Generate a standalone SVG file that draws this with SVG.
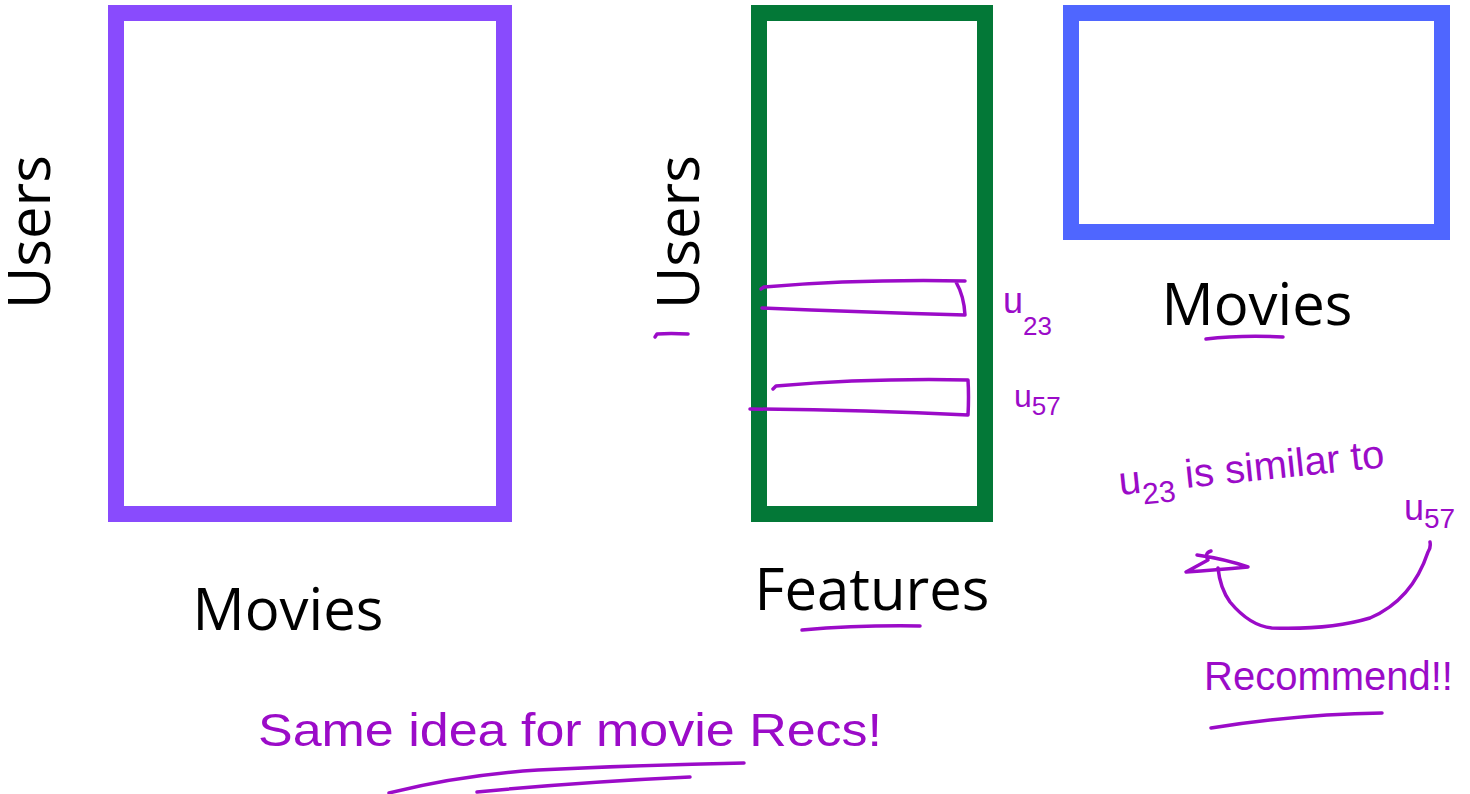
<svg xmlns="http://www.w3.org/2000/svg" width="1470" height="794" viewBox="0 0 1470 794">
  <style>
    .label { font-family: "Open Sans", "Noto Sans", "Liberation Sans", sans-serif; font-size: 58px; fill: #000; }
    .frame { fill: none; stroke-width: 16; }
    .ink { fill: none; stroke: #9b0bc8; stroke-width: 3.5; stroke-linecap: round; stroke-linejoin: round; }
    .note { font-family: "Liberation Sans", "DejaVu Sans", sans-serif; fill: #9b0bc8; }
  </style>
  <rect width="1470" height="794" fill="#fff"/>

  <!-- ratings matrix: users x movies -->
  <g id="ratings-matrix">
    <rect class="frame" x="116" y="13" width="388" height="501" stroke="#894bfd"/>
    <text class="label" transform="translate(50,232) rotate(-90)" text-anchor="middle">Users</text>
    <text class="label" x="288" y="630" text-anchor="middle">Movies</text>
  </g>

  <!-- user factor matrix: users x features -->
  <g id="user-features">
    <rect class="frame" x="759" y="13" width="226" height="501" stroke="#037837"/>
    <text class="label" transform="translate(699,232) rotate(-90)" text-anchor="middle">Users</text>
    <text class="label" x="872" y="610" text-anchor="middle">Features</text>
  </g>

  <!-- movie factor matrix -->
  <g id="movie-features">
    <rect class="frame" x="1071" y="13" width="371" height="219" stroke="#4f66ff"/>
    <text class="label" x="1257" y="325" text-anchor="middle">Movies</text>
  </g>

  <!-- handwritten annotations -->
  <g id="annotations">
    <path class="ink" d="M655 337 L657 334 Q670 333 688 334"/>
    <!-- row u23 -->
    <path class="ink" d="M761 289 L764 287 Q860 279 965 281 M956 282 Q964 296 965 315 Q860 312 762 308"/>
    <!-- row u57 -->
    <path class="ink" d="M773 389 L776 386 Q870 378 968 380 Q969 396 968 415 Q860 410 750 409"/>
    <text class="note" font-size="36" x="1003" y="313">u<tspan font-size="26" dy="22">23</tspan></text>
    <text class="note" font-size="32" x="1014" y="407">u<tspan font-size="26" dy="8">57</tspan></text>
    <!-- underlines -->
    <path class="ink" d="M1206 339 Q1240 335 1283 337"/>
    <path class="ink" d="M802 630 Q860 625 920 626"/>
    <!-- similarity note -->
    <text class="note" font-size="40" transform="translate(1120,495) rotate(-6)">u<tspan font-size="30" dy="12">23</tspan><tspan dy="-12"> is similar to</tspan></text>
    <text class="note" font-size="36" x="1404" y="520">u<tspan font-size="28" dy="8">57</tspan></text>
    <!-- recommend arrow -->
    <path class="ink" d="M1430 542 Q1431 548 1428 552 Q1412 600 1370 618 Q1330 630 1272 628 Q1250 626 1230 602 Q1220 588 1218 568"/>
    <path class="ink" d="M1211 551 Q1204 553 1208 560 L1186 572 Q1215 570 1248 567 Q1225 559 1197 555"/>
    <text class="note" font-size="40" x="1204" y="690">Recommend!!</text>
    <path class="ink" d="M1211 728 Q1300 714 1382 713"/>
    <!-- bottom note -->
    <text class="note" font-size="46" x="258" y="746" textLength="624" lengthAdjust="spacingAndGlyphs">Same idea for movie Recs!</text>
    <path class="ink" d="M389 793 Q460 775 538 770 Q640 765 744 763"/>
    <path class="ink" d="M477 792 Q580 782 690 777"/>
  </g>
</svg>
